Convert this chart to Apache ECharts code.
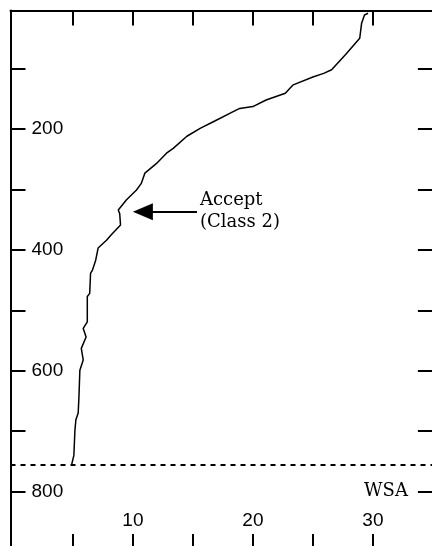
<!DOCTYPE html>
<html>
<head>
<meta charset="utf-8">
<script src="https://cdn.jsdelivr.net/npm/echarts@6/dist/echarts.min.js"></script>
<style>
html,body{margin:0;padding:0;background:#fff;}
#c{width:432px;height:546px;}
</style>
</head>
<body>
<div id="c"></div>
<script>
// WSA value (x) and depth (y) along the profile, top to bottom
const wsaValues = [29.6, 29.3, 29.06, 28.9, 28.8, 27.8, 26.56, 25.9, 25.0, 23.36, 22.7, 21.1, 20.0, 18.9, 18.4, 16.7, 15.6, 14.5, 13.36, 12.8, 11.97, 11.0, 10.7, 10.3, 9.47, 8.78, 8.9, 8.97, 8.2, 7.8, 7.1, 6.9, 6.64, 6.47, 6.4, 6.2, 6.2, 5.86, 6.1, 5.7, 5.86, 5.58, 5.5, 5.44, 5.25, 5.17, 5.08, 4.9];
const depthValues = [8.6, 11.4, 25, 50, 53, 75, 102, 108, 114, 127, 141, 152, 163, 166, 171, 188, 199, 212, 232, 240, 257, 273, 290, 301, 317, 334, 340, 359, 375, 384, 397, 417, 433, 439, 472, 477, 519, 530, 544, 563, 582, 599, 645, 670, 681, 698, 740, 755];

const xTickValues = [5, 10, 15, 20, 25, 30];
const xLabelValues = [10, 20, 30];
const yTickValues = [100, 200, 300, 400, 500, 600, 700, 800];
const yLabelValues = [200, 400, 600, 800];
const axisNameValue = 800;
const axisName = 'WSA';

const cutoffDepth = 755;
const arrowFrom = [15.34, 337];
const arrowTo = [10.83, 337];
const noteAnchor = [15.59, 337];
const noteText = 'Accept\n(Class 2)';

const xMin = -0.2, xMax = 35;
const yMin = 4, yMax = 895;

const chart = echarts.init(document.getElementById('c'), null, {renderer: 'canvas'});
const lineCol = '#000';
const axisCommon = {
  axisLine: {show: true, onZero: false, lineStyle: {color: lineCol, width: 2}},
  splitLine: {show: false}
};
const sans = 'Liberation Sans';
const serif = 'DejaVu Serif';

const option = {
  animation: false,
  backgroundColor: '#fff',
  grid: {left: 10.5, top: 10.5, width: 422.4, height: 538.6, containLabel: false, outerBoundsMode: 'none'},
  xAxis: [
    Object.assign({}, axisCommon, {
      type: 'value', position: 'bottom', min: xMin, max: xMax,
      axisTick: {show: true, inside: true, length: 15, lineStyle: {color: lineCol, width: 2}, customValues: xTickValues},
      axisLabel: {show: true, inside: true, margin: 19, customValues: xLabelValues, color: '#000', fontFamily: sans, fontSize: 19}
    }),
    Object.assign({}, axisCommon, {
      type: 'value', position: 'top', min: xMin, max: xMax,
      axisTick: {show: true, inside: true, length: 15, lineStyle: {color: lineCol, width: 2}, customValues: xTickValues},
      axisLabel: {show: false}
    })
  ],
  yAxis: [
    Object.assign({}, axisCommon, {
      type: 'value', position: 'left', inverse: true, min: yMin, max: yMax,
      axisTick: {show: true, inside: true, length: 15, lineStyle: {color: lineCol, width: 2}, customValues: yTickValues},
      axisLabel: {show: true, inside: true, margin: 21, customValues: yLabelValues, color: '#000', fontFamily: sans, fontSize: 19}
    }),
    Object.assign({}, axisCommon, {
      type: 'value', position: 'right', inverse: true, min: yMin, max: yMax,
      axisTick: {show: true, inside: true, length: 15, lineStyle: {color: lineCol, width: 2}, customValues: yTickValues},
      axisLabel: {show: true, inside: true, margin: 25, customValues: [axisNameValue], formatter: () => axisName, color: '#000', fontFamily: serif, fontSize: 18}
    })
  ],
  series: [{
    type: 'line',
    xAxisIndex: 0, yAxisIndex: 0,
    data: wsaValues.map((v, i) => [v, depthValues[i]]),
    showSymbol: false,
    symbol: 'none',
    lineStyle: {color: '#000', width: 1.5},
    silent: true,
    markLine: {
      silent: true,
      animation: false,
      data: [
        [{coord: arrowFrom, symbol: 'none'}, {coord: arrowTo, symbol: 'triangle', symbolSize: [17, 20]}],
        {yAxis: cutoffDepth, symbol: 'none', lineStyle: {type: [5, 5], width: 2, color: '#000'}}
      ],
      symbol: ['none', 'none'],
      label: {show: false},
      lineStyle: {color: '#000', width: 2, type: 'solid'},
      emphasis: {disabled: true}
    },
    markPoint: {
      silent: true,
      data: [{coord: noteAnchor, value: noteText}],
      symbol: 'circle', symbolSize: 0,
      label: {show: true, position: 'right', distance: 0, formatter: noteText, color: '#000', fontFamily: serif, fontSize: 18, lineHeight: 22, align: 'left'}
    }
  }]
};
chart.setOption(option);
</script>
</body>
</html>
